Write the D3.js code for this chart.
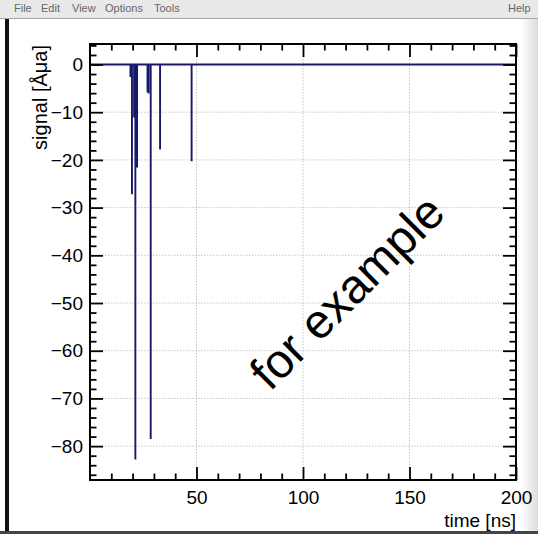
<!DOCTYPE html>
<html>
<head>
<meta charset="utf-8">
<script src="https://cdn.jsdelivr.net/npm/d3@7"></script>
<style>
  html, body { margin: 0; padding: 0; background: #fff; }
  svg { display: block; font-family: "Liberation Sans", Arial, Helvetica, sans-serif; }
</style>
</head>
<body>
<svg id="c" width="538" height="534"></svg>
<script>
// Pulse arrival times [ns] and amplitudes of the recorded waveform
const pulseTimes = [19.0, 19.7, 20.7, 21.3, 22.1, 27.0, 27.5, 28.5, 32.9, 47.7];
const pulseAmps  = [-2.6, -27.2, -11.1, -82.8, -21.6, -5.8, -6.1, -78.5, -17.8, -20.3];

// Axis ranges and tick labels
const xRange = [0, 200];
const yRange = [-87.1, 4.3];
const xMajor = [50, 100, 150, 200];
const yMajor = [0, -10, -20, -30, -40, -50, -60, -70, -80];
const xMinorStep = 10;
const yMinorStep = 2;

const menuItems = ["File", "Edit", "View", "Options", "Tools"];

const svg = d3.select("#c");
const W = 538, H = 534;
const frame = { left: 90, right: 516, top: 44, bottom: 480 };

// ---- window chrome ----
svg.append("rect").attr("x", 0).attr("y", 0).attr("width", W).attr("height", 18).attr("fill", "#e9e9e9");
svg.append("line").attr("x1", 0).attr("x2", W).attr("y1", 18.5).attr("y2", 18.5).attr("stroke", "#a8a8a8");
const menuX = [14, 41, 72, 105, 154];
const menu = svg.append("g").attr("font-size", 11).attr("fill", "#666");
menuItems.forEach((m, i) => {
  menu.append("text").attr("x", menuX[i]).attr("y", 12).text(m);
});
menu.append("text").attr("x", 508).attr("y", 12).text("Help");

// right grey strip
const grad = svg.append("defs").append("linearGradient").attr("id", "rs").attr("x1", 0).attr("x2", 1);
grad.append("stop").attr("offset", 0).attr("stop-color", "#ffffff");
grad.append("stop").attr("offset", 1).attr("stop-color", "#dcdcdc");
svg.append("rect").attr("x", 521).attr("y", 19).attr("width", 17).attr("height", H - 19).attr("fill", "url(#rs)");

// left window border
svg.append("rect").attr("x", 5).attr("y", 19).attr("width", 4).attr("height", H - 19).attr("fill", "#111");
// bottom status bar edge
svg.append("rect").attr("x", 0).attr("y", 531).attr("width", W).attr("height", 3).attr("fill", "#444");

// ---- scales ----
const x = d3.scaleLinear().domain(xRange).range([frame.left, frame.right]);
const y = d3.scaleLinear().domain(yRange).range([frame.bottom, frame.top]);

const xMinor = d3.range(xRange[0] + xMinorStep, xRange[1] + 0.001, xMinorStep).filter(v => !xMajor.includes(v));
const yMinor = d3.range(Math.ceil(yRange[0] / yMinorStep) * yMinorStep, yRange[1], yMinorStep).filter(v => !yMajor.includes(v));

// ---- grid ----
const grid = svg.append("g").attr("stroke", "#c8c8c8").attr("stroke-width", 1).attr("stroke-dasharray", "1.5,1.5");
xMajor.filter(v => v < xRange[1]).forEach(v => {
  grid.append("line").attr("x1", x(v)).attr("x2", x(v)).attr("y1", frame.top).attr("y2", frame.bottom);
});
yMajor.forEach(v => {
  grid.append("line").attr("x1", frame.left).attr("x2", frame.right).attr("y1", y(v)).attr("y2", y(v));
});

// ---- waveform ----
const pts = [[xRange[0], 0]];
pulseTimes.forEach((t, i) => { pts.push([t, 0], [t, pulseAmps[i]], [t, 0]); });
pts.push([xRange[1], 0]);
svg.append("path")
  .attr("d", d3.line().x(d => x(d[0])).y(d => y(d[1]))(pts))
  .attr("fill", "none").attr("stroke", "#18186a").attr("stroke-width", 1.9);

// ---- axes (ticks inside the frame on all four sides) ----
const majLen = 13, minLen = 6.5;
const tickStyle = g => g.attr("stroke", "#000").attr("stroke-width", 1.8);
const minusFmt = d => d3.format("d")(d).replace("-", "\u2212");

svg.append("g").attr("transform", `translate(0,${frame.bottom})`)
  .call(d3.axisBottom(x).tickValues(xMajor).tickSize(-majLen).tickPadding(11).tickFormat(d3.format("d")));
svg.append("g").attr("transform", `translate(0,${frame.top})`)
  .call(d3.axisTop(x).tickValues(xMajor).tickSize(-majLen).tickFormat(""));
svg.append("g").attr("transform", `translate(${frame.left},0)`)
  .call(d3.axisLeft(y).tickValues(yMajor).tickSize(-majLen).tickPadding(7).tickFormat(minusFmt));
svg.append("g").attr("transform", `translate(${frame.right},0)`)
  .call(d3.axisRight(y).tickValues(yMajor).tickSize(-majLen).tickFormat(""));

svg.append("g").attr("transform", `translate(0,${frame.bottom})`)
  .call(d3.axisBottom(x).tickValues(xMinor).tickSize(-minLen).tickFormat(""));
svg.append("g").attr("transform", `translate(0,${frame.top})`)
  .call(d3.axisTop(x).tickValues(xMinor).tickSize(-minLen).tickFormat(""));
svg.append("g").attr("transform", `translate(${frame.left},0)`)
  .call(d3.axisLeft(y).tickValues(yMinor).tickSize(-minLen).tickFormat(""));
svg.append("g").attr("transform", `translate(${frame.right},0)`)
  .call(d3.axisRight(y).tickValues(yMinor).tickSize(-minLen).tickFormat(""));

svg.selectAll(".domain").remove();
svg.selectAll(".tick line").call(tickStyle);
svg.selectAll(".tick text").attr("font-size", 19).attr("fill", "#000")
  .attr("font-family", "'Liberation Sans', Arial, sans-serif");

// frame
svg.append("rect").attr("x", frame.left).attr("y", frame.top)
  .attr("width", frame.right - frame.left).attr("height", frame.bottom - frame.top)
  .attr("fill", "none").attr("stroke", "#000").attr("stroke-width", 2);

// axis titles
svg.append("text").attr("x", frame.right).attr("y", 527).attr("text-anchor", "end")
  .attr("font-size", 19).text("time [ns]");
svg.append("text").attr("transform", `translate(46.5,${frame.top + 1}) rotate(-90)`).attr("text-anchor", "end")
  .attr("font-size", 20).text("signal [\u00C5\u03BCa]");

// annotation
svg.append("text").attr("transform", "translate(347,292) rotate(-45)")
  .attr("text-anchor", "middle").attr("dominant-baseline", "central")
  .attr("font-size", 48).attr("fill", "#000").text("for example");
</script>
</body>
</html>
